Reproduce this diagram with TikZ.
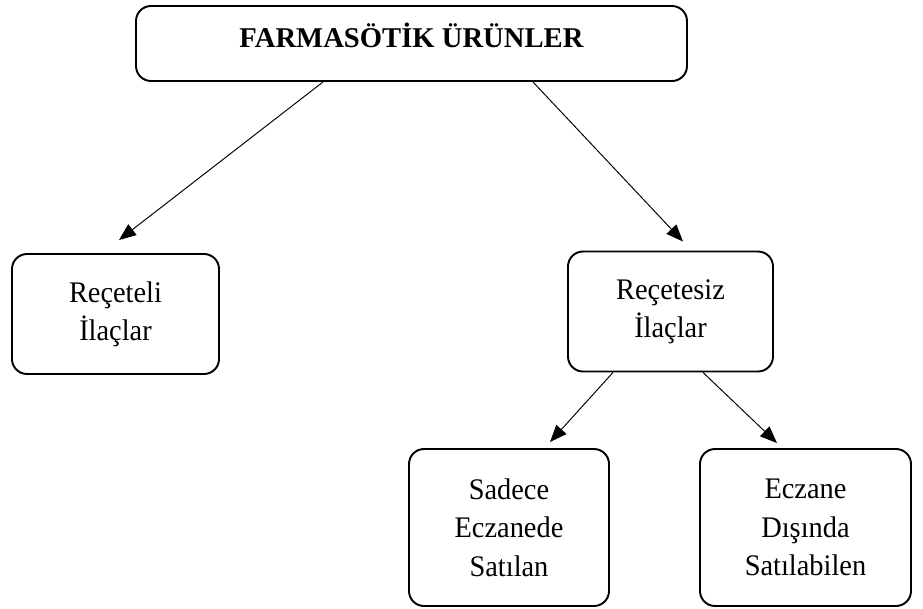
\documentclass[tikz,border=0pt]{standalone}
\usepackage{fontspec}
\setmainfont{Liberation Serif}
\newfontfamily\bodyfont[FakeStretch=0.95]{Liberation Serif}
\usetikzlibrary{arrows.meta}

\begin{document}
\begin{tikzpicture}[scale=1]
        % ================= 样式定义 =================
        \tikzset{
            % 圆角方框:白底黑边
            boxnode/.style={rectangle, rounded corners=0.3cm, draw=black, line width=1.1pt, fill=white, align=center, inner sep=0pt, font=\bodyfont\fontsize{17pt}{21.8pt}\selectfont},
            % 顶部标题方框 (粗体,文字偏上)
            titlenode/.style={boxnode, font=\fontsize{16.3pt}{20pt}\selectfont\bfseries, text height=14pt, text depth=10pt},
            % 细线箭头
            arrow_edge/.style={line width=0.55pt, black, -{Triangle[length=0.34cm, width=0.27cm]}}
        }

        \useasboundingbox (0,0) rectangle (18.46,-12.18);

        % ================= 节点 =================
        \node[titlenode, minimum width=11.02cm, minimum height=1.5cm] (farma) at (8.23,-0.87) {FARMASÖTİK ÜRÜNLER};

        % 第二层
        \node[boxnode, minimum width=4.14cm, minimum height=2.4cm] (receteli) at (2.31,-6.28) {Reçeteli\\İlaçlar};
        \node[boxnode, minimum width=4.10cm, minimum height=2.4cm] (recetesiz) at (13.41,-6.23) {Reçetesiz\\İlaçlar};

        % 第三层
        \node[boxnode, minimum width=4.0cm, minimum height=3.14cm] (sadece) at (10.18,-10.55) {Sadece\\Eczanede\\Satılan};
        \node[boxnode, minimum width=4.22cm, minimum height=3.14cm] (eczane) at (16.11,-10.55) {Eczane\\Dışında\\Satılabilen};

        % ================= 箭头 =================
        \draw[arrow_edge] ([xshift=-1.77cm]farma.south) -- ([xshift=0.07cm, yshift=0.26cm]receteli.north);
        \draw[arrow_edge] ([xshift=2.43cm]farma.south) -- ([xshift=0.25cm, yshift=0.18cm]recetesiz.north);

        \draw[arrow_edge] ([xshift=-1.15cm]recetesiz.south) -- ([xshift=0.82cm, yshift=0.12cm]sadece.north);
        \draw[arrow_edge] ([xshift=0.65cm]recetesiz.south) -- ([xshift=-0.57cm, yshift=0.10cm]eczane.north);

    \end{tikzpicture}
\end{document}
